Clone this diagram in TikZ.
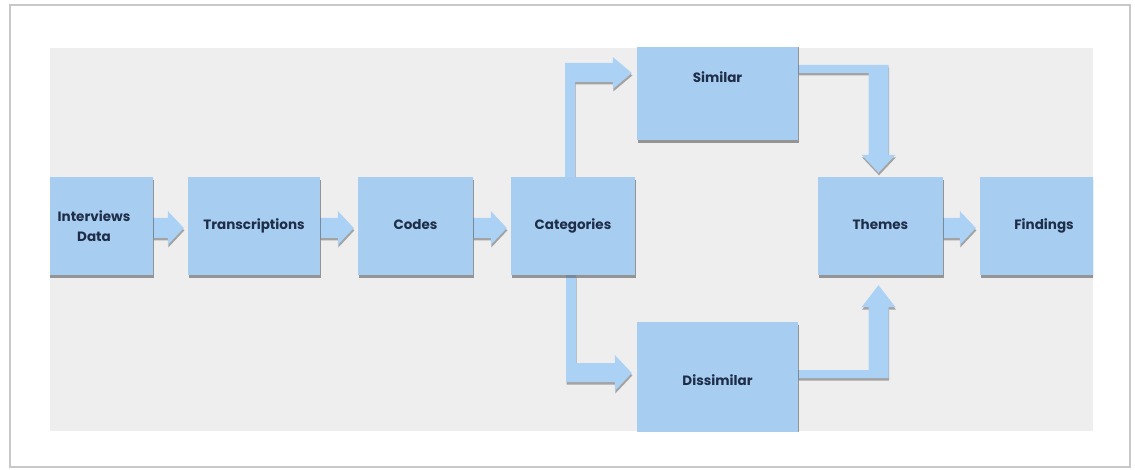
\documentclass[tikz,border=0pt]{standalone}
\usepackage{fontspec}
\setmainfont{Poppins}
\usetikzlibrary{calc,shadows,backgrounds}
\definecolor{boxblue}{HTML}{A7CDF1}
\definecolor{arrblue}{HTML}{ABD1F5}
\definecolor{panelgray}{HTML}{EEEEEE}
\definecolor{framegray}{HTML}{C8C8C8}
\definecolor{txtnavy}{HTML}{1E2D48}
\tikzset{
  stepbox/.style={rectangle, fill=boxblue, draw=none, text=txtnavy,
    font=\bfseries\fontsize{13.5}{20}\selectfont, align=center, inner sep=0pt,
    drop shadow={shadow xshift=0.5pt, shadow yshift=-3pt, opacity=0.6, fill=black!65}},
  arr/.style={fill=arrblue,
    drop shadow={shadow xshift=0.5pt, shadow yshift=-2.5pt, opacity=0.55, fill=black!60}},
}
\newcommand\harr[2]{%
  \fill[arr] ($(#1.east)+(0,-8)$) -- ($(#2.west)+(-20,-8)$) -- ($(#2.west)+(-20,-15)$)
    -- ($(#2.west)+(-4,2)$) -- ($(#2.west)+(-20,19)$) -- ($(#2.west)+(-20,12)$)
    -- ($(#1.east)+(0,12)$) -- cycle;}
\newcommand\up[1]{\raisebox{3pt}{#1}}
\begin{document}
\begin{tikzpicture}[x=1pt,y=-1pt]
\useasboundingbox (0,0) rectangle (1135,470);
\coordinate (pnw) at (50,48);
\coordinate (pse) at (1093,431);
\begin{scope}
  \clip (pnw) rectangle (pse);
  \node[stepbox, minimum width=118, minimum height=98] (int) at (94,226) {Interviews\\Data};
  \node[stepbox, minimum width=132, minimum height=98] (tra) at (254,226) {\up{Transcriptions}};
  \node[stepbox, minimum width=115, minimum height=98] (cod) at (415.5,226) {\up{Codes}};
  \node[stepbox, minimum width=124, minimum height=98] (cat) at (573,226) {\up{Categories}};
  \node[stepbox, minimum width=161, minimum height=126] (sim) at (717.5,77) {Similar};
  \node[stepbox, minimum width=161, minimum height=116] (dis) at (717.5,380) {Dissimilar};
  \node[stepbox, minimum width=125, minimum height=98] (the) at (880.5,226) {\up{Themes}};
  \node[stepbox, minimum width=128, minimum height=98] (fin) at (1044,226) {\up{Findings}};
\end{scope}
\begin{pgfonlayer}{background}
  \draw[framegray, line width=1.5pt] (10,5) rectangle (1130,467);
  \fill[panelgray] (pnw) rectangle (pse);
  \harr{int}{tra}
  \harr{tra}{cod}
  \harr{cod}{cat}
  \harr{the}{fin}
  % Categories -> Similar
  \coordinate (s1) at ($(cat.north)+(-8,0)$);
  \coordinate (t1) at ($(sim.west)+(-5,-4)$);
  \fill[arr] (s1) -- ($(s1|-t1)+(0,-10)$) -- ($(t1)+(-19,-10)$) -- ($(t1)+(-19,-16)$)
    -- (t1) -- ($(t1)+(-19,16)$) -- ($(t1)+(-19,9)$) -- ($(s1|-t1)+(10,9)$)
    -- ($(s1)+(10,0)$) -- cycle;
  % Categories -> Dissimilar
  \coordinate (s2) at ($(cat.south)+(-7,0)$);
  \coordinate (t2) at ($(dis.west)+(-5,-7)$);
  \fill[arr] (s2) -- ($(s2|-t2)+(0,9)$) -- ($(t2)+(-17,9)$) -- ($(t2)+(-17,18)$)
    -- (t2) -- ($(t2)+(-17,-18)$) -- ($(t2)+(-17,-10)$) -- ($(s2|-t2)+(10,-10)$)
    -- ($(s2)+(10,0)$) -- cycle;
  % Similar -> Themes
  \coordinate (s3) at ($(sim.east)+(0,-12)$);
  \coordinate (t3) at ($(the.north)+(-2,-4)$);
  \fill[arr] (s3) -- ($(t3|-s3)+(10,0)$) -- ($(t3)+(10,-18)$) -- ($(t3)+(17,-18)$)
    -- (t3) -- ($(t3)+(-17,-18)$) -- ($(t3)+(-10,-18)$) -- ($(t3|-s3)+(-10,8)$)
    -- ($(s3)+(0,8)$) -- cycle;
  % Dissimilar -> Themes
  \coordinate (s4) at ($(dis.east)+(0,-10)$);
  \coordinate (t4) at ($(the.south)+(-2,10)$);
  \fill[arr] (s4) -- ($(t4|-s4)+(-10,0)$) -- ($(t4)+(-10,22)$) -- ($(t4)+(-17,22)$)
    -- (t4) -- ($(t4)+(17,22)$) -- ($(t4)+(10,22)$) -- ($(t4|-s4)+(10,8)$)
    -- ($(s4)+(0,8)$) -- cycle;
\end{pgfonlayer}
\end{tikzpicture}
\end{document}
